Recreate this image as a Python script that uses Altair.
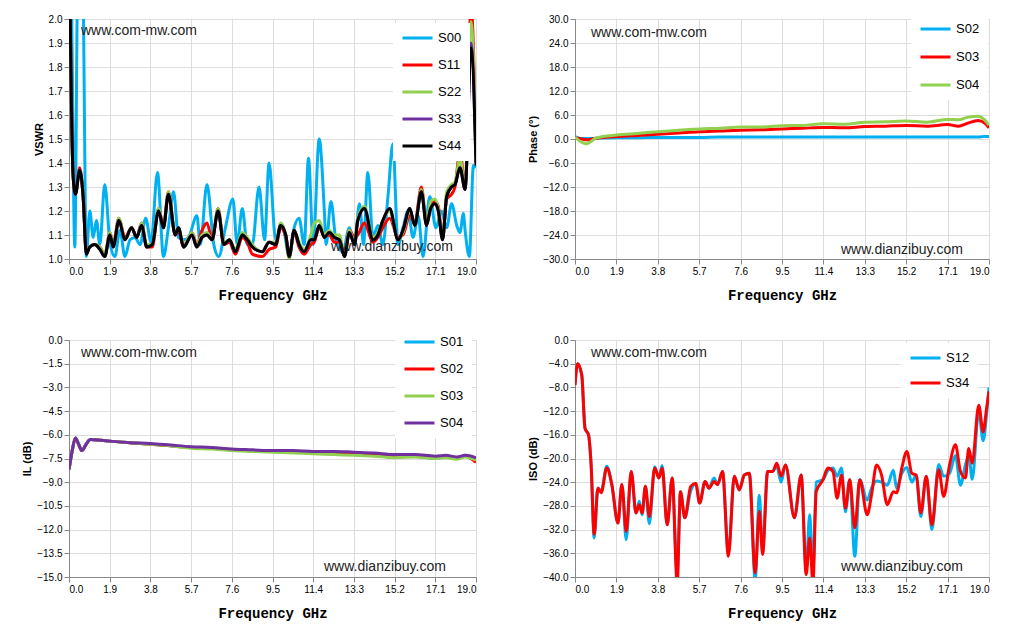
import altair as alt
import pandas as pd

# ---------------- VSWR panel ----------------
vswr_x = [0.03, 0.19, 0.30, 0.50, 0.66, 0.81, 0.97, 1.20, 1.44, 1.67, 1.91, 2.06, 2.33, 2.61, 2.92,
          3.16, 3.39, 3.63, 3.89, 4.18, 4.41, 4.64, 4.96, 5.11, 5.35, 5.74, 5.97, 6.21, 6.44, 6.68,
          6.96, 7.23, 7.49, 7.77, 8.09, 8.32, 8.56, 9.02, 9.34, 9.65, 9.88, 10.12, 10.28, 10.51, 10.74,
          10.98, 11.29, 11.45, 11.68, 11.92, 12.15, 12.39, 12.62, 12.86, 13.09, 13.33, 13.48, 13.79,
          14.19, 14.42, 14.65, 14.97, 15.36, 15.59, 15.91, 16.14, 16.45, 16.69, 16.88, 17.08, 17.24,
          17.44, 17.63, 17.86, 18.02, 18.25, 18.49, 18.77, 19.0]
s44 = [2.2, 1.35, 1.27, 1.37, 1.26, 1.02, 1.05, 1.06, 1.04, 1.01, 1.10, 1.05, 1.16, 1.08, 1.13,
       1.09, 1.14, 1.05, 1.06, 1.20, 1.13, 1.27, 1.10, 1.13, 1.05, 1.10, 1.05, 1.09, 1.10, 1.08,
       1.20, 1.06, 1.08, 1.03, 1.10, 1.08, 1.05, 1.03, 1.07, 1.06, 1.14, 1.10, 1.01, 1.12, 1.06,
       1.03, 1.08, 1.08, 1.14, 1.09, 1.11, 1.09, 1.08, 1.01, 1.11, 1.06, 1.16, 1.21,
       1.08, 1.10, 1.16, 1.21, 1.08, 1.12, 1.21, 1.14, 1.28, 1.14, 1.21, 1.23, 1.20,
       1.08, 1.26, 1.30, 1.31, 1.38, 1.29, 1.88, 1.39]
s33 = [2.2, 1.35, 1.27, 1.37, 1.26, 1.02, 1.05, 1.06, 1.04, 1.01, 1.10, 1.05, 1.16, 1.08, 1.13,
       1.09, 1.14, 1.05, 1.06, 1.20, 1.13, 1.27, 1.10, 1.13, 1.05, 1.10, 1.05, 1.09, 1.10, 1.08,
       1.20, 1.06, 1.08, 1.03, 1.10, 1.08, 1.05, 1.03, 1.07, 1.06, 1.14, 1.10, 1.01, 1.12, 1.06,
       1.03, 1.08, 1.08, 1.14, 1.09, 1.11, 1.09, 1.08, 1.01, 1.11, 1.06, 1.16, 1.21,
       1.08, 1.10, 1.16, 1.21, 1.08, 1.12, 1.21, 1.14, 1.28, 1.14, 1.21, 1.23, 1.20,
       1.08, 1.26, 1.30, 1.31, 1.38, 1.29, 1.90, 1.40]
s22 = [2.2, 1.35, 1.27, 1.37, 1.26, 1.03, 1.05, 1.06, 1.05, 1.02, 1.11, 1.06, 1.17, 1.08, 1.13,
       1.09, 1.15, 1.06, 1.06, 1.21, 1.13, 1.28, 1.11, 1.13, 1.06, 1.11, 1.06, 1.10, 1.11, 1.08,
       1.21, 1.07, 1.08, 1.04, 1.11, 1.09, 1.06, 1.03, 1.07, 1.07, 1.15, 1.10, 1.00, 1.12, 1.07,
       1.04, 1.10, 1.15, 1.16, 1.10, 1.12, 1.10, 1.10, 1.02, 1.12, 1.07, 1.17, 1.22,
       1.09, 1.11, 1.16, 1.20, 1.08, 1.11, 1.20, 1.14, 1.29, 1.15, 1.24, 1.25, 1.21,
       1.09, 1.28, 1.31, 1.32, 1.42, 1.30, 1.99, 1.45]
s11 = [2.2, 1.35, 1.27, 1.38, 1.26, 1.03, 1.05, 1.06, 1.05, 1.02, 1.11, 1.06, 1.17, 1.09, 1.13,
       1.09, 1.15, 1.05, 1.05, 1.21, 1.14, 1.28, 1.10, 1.12, 1.05, 1.11, 1.06, 1.12, 1.15, 1.08,
       1.21, 1.06, 1.07, 1.02, 1.09, 1.07, 1.02, 1.01, 1.04, 1.05, 1.13, 1.09, 1.01, 1.11, 1.05,
       1.02, 1.06, 1.07, 1.13, 1.10, 1.10, 1.07, 1.07, 1.02, 1.12, 1.09, 1.10, 1.15,
       1.07, 1.09, 1.13, 1.17, 1.09, 1.10, 1.18, 1.15, 1.30, 1.15, 1.22, 1.24, 1.22,
       1.09, 1.25, 1.27, 1.30, 1.45, 1.30, 2.05, 1.45]
s00_x = [0.0, 0.11, 0.27, 0.40, 0.53, 0.65, 0.81, 0.97, 1.13, 1.28, 1.44, 1.67, 1.91, 2.14, 2.38, 2.61,
         2.85, 3.08, 3.32, 3.58, 3.83, 4.13, 4.41, 4.64, 4.88, 5.11, 5.35, 5.58, 5.97, 6.13, 6.44,
         6.76, 6.99, 7.30, 7.65, 7.85, 8.09, 8.32, 8.56, 8.87, 9.13, 9.34, 9.65, 9.96, 10.28, 10.51,
         10.74, 10.98, 11.18, 11.40, 11.68, 11.92, 12.00, 12.23, 12.46, 12.78, 13.09, 13.33, 13.56,
         13.75, 13.95, 14.19, 14.42, 14.65, 14.89, 15.12, 15.36, 15.59, 15.83, 16.06, 16.30, 16.53,
         16.84, 17.13, 17.39, 17.63, 17.86, 18.10, 18.25, 18.41, 18.49, 18.69, 18.88, 19.0]
s00 = [2.4, 2.1, 1.05, 2.2, 2.6, 2.2, 1.01, 1.20, 1.09, 1.16, 1.06, 1.31, 1.07, 1.01, 1.12, 1.01,
       1.08, 1.09, 1.06, 1.17, 1.07, 1.36, 1.01, 1.13, 1.28, 1.09, 1.08, 1.09, 1.18, 1.06, 1.31,
       1.06, 1.01, 1.13, 1.25, 1.06, 1.21, 1.06, 1.06, 1.30, 1.08, 1.40, 1.08, 1.14, 1.01, 1.13,
       1.17, 1.06, 1.42, 1.06, 1.50, 1.20, 1.06, 1.24, 1.08, 1.03, 1.13, 1.06, 1.23,
       1.06, 1.36, 1.09, 1.14, 1.06, 1.26, 1.48, 1.06, 1.13, 1.20, 1.09, 1.18, 1.01,
       1.26, 1.13, 1.20, 1.13, 1.23, 1.14, 1.11, 1.19, 1.12, 1.01, 1.39, 1.38]

# ---------------- Phase panel ----------------
ph_x = [0, 0.3, 0.5, 1, 1.9, 2.85, 3.8, 4.75, 5.7, 6.65, 7.6, 8.55, 9.5, 10.45, 11.4, 12.35,
        13.3, 14.25, 15.2, 16.15, 17.1, 17.6, 18.0, 18.5, 18.8, 19.0]
ph_s02 = [0.6, 0.1, 0.1, 0.2, 0.3, 0.3, 0.4, 0.4, 0.4, 0.5, 0.5, 0.5, 0.5, 0.5, 0.5, 0.5,
          0.5, 0.5, 0.5, 0.5, 0.5, 0.5, 0.5, 0.5, 0.6, 0.6]
ph_s03 = [0.3, 0.0, -0.2, 0.2, 0.6, 0.9, 1.2, 1.5, 1.8, 2.0, 2.2, 2.3, 2.5, 2.7, 2.9, 2.8,
          3.1, 3.2, 3.4, 3.2, 3.6, 3.2, 3.9, 4.6, 4.0, 2.8]
ph_s04 = [0.5, -0.8, -1.2, 0.3, 1.0, 1.4, 1.8, 2.2, 2.5, 2.7, 3.0, 3.0, 3.3, 3.4, 3.8, 3.7,
          4.2, 4.3, 4.5, 4.2, 4.9, 4.8, 5.4, 5.7, 4.8, 3.5]

# ---------------- IL panel ----------------
il_x = [0, 0.15, 0.3, 0.45, 0.6, 0.8, 1.0, 1.5, 1.9, 2.85, 3.8, 4.75, 5.7, 6.65, 7.6, 8.55,
        9.5, 10.45, 11.4, 12.35, 13.3, 14.25, 15.2, 16.15, 17.1, 17.6, 18.1, 18.5, 19]
il_s01 = [-8.2, -7.0, -6.2, -6.6, -7.0, -6.6, -6.3, -6.35, -6.4, -6.5, -6.6, -6.7, -6.8, -6.85,
          -6.95, -7.0, -7.05, -7.1, -7.15, -7.2, -7.25, -7.3, -7.4, -7.35, -7.5, -7.4, -7.5, -7.3, -7.7]
il_s02 = [-8.2, -7.0, -6.2, -6.6, -7.0, -6.6, -6.3, -6.35, -6.4, -6.5, -6.6, -6.7, -6.8, -6.85,
          -6.95, -7.0, -7.05, -7.1, -7.15, -7.2, -7.25, -7.3, -7.4, -7.35, -7.45, -7.4, -7.5, -7.35, -7.75]
il_s03 = [-8.2, -7.0, -6.2, -6.6, -7.0, -6.6, -6.3, -6.35, -6.4, -6.5, -6.6, -6.7, -6.85, -6.9,
          -7.0, -7.05, -7.1, -7.15, -7.2, -7.25, -7.3, -7.35, -7.45, -7.4, -7.5, -7.45, -7.55, -7.4, -7.6]
il_s04 = [-8.2, -7.0, -6.2, -6.6, -7.0, -6.6, -6.3, -6.35, -6.4, -6.5, -6.55, -6.65, -6.75, -6.8,
          -6.9, -6.95, -7.0, -7.0, -7.05, -7.05, -7.1, -7.15, -7.25, -7.25, -7.35, -7.3, -7.4, -7.3, -7.45]

# ---------------- ISO panel ----------------
iso_x = [0.00, 0.12, 0.31, 0.46, 0.62, 0.74, 0.88, 1.05, 1.20, 1.46, 1.69, 1.97, 2.15, 2.35, 2.58,
         2.80, 2.95, 3.08, 3.23, 3.41, 3.66, 3.85, 4.00, 4.23, 4.46, 4.69, 4.84, 5.04, 5.31, 5.54,
         5.72, 5.97, 6.15, 6.38, 6.54, 6.77, 7.04, 7.31, 7.54, 7.77, 8.00, 8.27, 8.46, 8.61, 8.84,
         9.07, 9.26, 9.46, 9.66, 10.07, 10.38, 10.61, 10.77, 10.92, 11.07, 11.38, 11.61, 11.84,
         12.03, 12.23, 12.41, 12.61, 12.84, 13.07, 13.41, 13.61, 13.84, 14.07, 14.33, 14.61, 14.76,
         15.00, 15.23, 15.46, 15.66, 15.87, 16.12, 16.38, 16.69, 16.92, 17.19, 17.46, 17.69, 17.92,
         18.07, 18.23, 18.53, 18.73, 18.89, 19.00]
iso_s34 = [-7.6, -4.0, -5.9, -14.9, -16.0, -21.1, -32.8, -25.0, -25.8, -21.6, -24.4, -30.9, -24.4,
           -32.3, -22.2, -29.2, -27.8, -29.2, -24.7, -29.8, -21.6, -23.3, -21.6, -31.2, -23.3, -41.0,
           -25.6, -30.0, -24.7, -24.2, -27.5, -23.9, -25.0, -23.9, -24.4, -22.2, -36.5, -23.0, -25.3,
           -22.8, -22.5, -39.3, -28.9, -36.2, -22.2, -22.2, -20.8, -23.0, -21.1, -30.0, -22.8, -39.6,
           -33.4, -41.0, -25.6, -23.6, -21.6, -22.2, -26.7, -22.8, -28.4, -23.6, -31.7, -23.6, -29.5,
           -26.1, -21.1, -22.8, -27.8, -25.6, -25.8, -21.6, -18.8, -22.5, -22.8, -29.2, -23.0, -31.2,
           -21.9, -26.4, -21.1, -17.7, -22.2, -23.3, -18.3, -20.8, -11.0, -15.5, -11.5, -8.7]
iso_s12 = [-7.6, -4.0, -5.9, -14.9, -16.0, -21.1, -33.4, -25.0, -25.5, -21.3, -24.4, -30.9, -24.4,
           -33.7, -22.2, -29.2, -27.2, -29.5, -24.7, -31.0, -21.4, -23.3, -21.2, -31.2, -23.3, -39.5,
           -25.6, -30.0, -25.5, -24.2, -27.5, -23.9, -25.0, -23.3, -24.4, -22.2, -36.0, -23.0, -25.3,
           -22.8, -22.5, -40.5, -26.2, -35.5, -22.2, -22.2, -21.3, -24.0, -21.1, -30.0, -22.8, -38.5,
           -29.5, -39.0, -24.0, -23.6, -22.0, -21.6, -23.0, -21.6, -29.0, -23.6, -36.5, -23.6, -27.0,
           -25.0, -23.8, -24.0, -24.5, -22.0, -25.0, -22.5, -21.5, -24.0, -22.8, -29.8, -23.0, -32.0,
           -21.0, -23.0, -22.5, -19.5, -24.5, -21.0, -19.5, -23.5, -12.0, -17.0, -12.5, -8.0]

freq_ticks = [0.0, 1.9, 3.8, 5.7, 7.6, 9.5, 11.4, 13.3, 15.2, 17.1, 19.0]

COL = {"S00": "#00b0f0", "S01": "#00b0f0", "S02": "#00b0f0", "S12": "#00b0f0",
       "S11": "#ff0000", "S03": "#ff0000", "S34": "#ff0000",
       "S22": "#92d050", "S04": "#92d050", "S33": "#7030a0", "S44": "#000000"}


def frame(series):
    rows = []
    for name, xs, ys in series:
        for i, (x, y) in enumerate(zip(xs, ys)):
            rows.append({"f": x, "v": y, "s": name, "i": i})
    return pd.DataFrame(rows)


def panel(series, order, ydom, ystep, ytitle, lx, ly, rowpad, colors=None):
    df = frame(series)
    yticks = [round(ydom[0] + k * ystep, 2) for k in range(int(round((ydom[1] - ydom[0]) / ystep)) + 1)]
    if colors is None:
        colors = [COL[s] for s in order]
    return alt.Chart(df).mark_line(strokeWidth=3, clip=True, interpolate="monotone").encode(
        x=alt.X("f:Q", title="Frequency GHz", scale=alt.Scale(domain=[0, 19], nice=False),
                axis=alt.Axis(values=freq_ticks, format=".1f", titleFont="Liberation Mono",
                              titleFontSize=14, titleFontWeight="bold", titlePadding=12)),
        y=alt.Y("v:Q", title=ytitle, scale=alt.Scale(domain=ydom, nice=False),
                axis=alt.Axis(values=yticks, format=".1f")),
        color=alt.Color("s:N", sort=order, scale=alt.Scale(domain=order, range=colors),
                        legend=alt.Legend(title=None, orient="none", legendX=lx, legendY=ly,
                                          fillColor="white", symbolType="stroke",
                                          symbolStrokeWidth=3, symbolSize=900, clipHeight=14,
                                          labelFontSize=13, rowPadding=rowpad, padding=8)),
        order=alt.Order("i:Q"),
    )


def marks(txt, x, y):
    return alt.Chart(pd.DataFrame({"t": [txt]})).mark_text(
        align="left", baseline="middle", fontSize=14, font="Liberation Sans", color="#222"
    ).encode(x=alt.value(x), y=alt.value(y), text="t:N")


p1 = alt.layer(
    panel([("S00", s00_x, s00), ("S11", vswr_x, s11), ("S22", vswr_x, s22),
           ("S33", vswr_x, s33), ("S44", vswr_x, s44)],
          ["S00", "S11", "S22", "S33", "S44"], [1.0, 2.0], 0.1, "VSWR", 324, 4, 13),
    marks("www.com-mw.com", 12, 12), marks("www.dianzibuy.com", 262, 228),
).properties(width=407, height=240)

p2 = alt.layer(
    panel([("S02", ph_x, ph_s02), ("S03", ph_x, ph_s03), ("S04", ph_x, ph_s04)],
          ["S02", "S03", "S04"], [-30, 30], 6, "Phase (°)", 336, -5, 14),
    marks("www.com-mw.com", 16, 14), marks("www.dianzibuy.com", 266, 231),
).properties(width=414, height=240)

p3 = alt.layer(
    panel([("S01", il_x, il_s01), ("S02", il_x, il_s02), ("S03", il_x, il_s03), ("S04", il_x, il_s04)],
          ["S01", "S02", "S03", "S04"], [-15, 0], 1.5, "IL (dB)", 326, -13, 13,
          colors=["#00b0f0", "#ff0000", "#92d050", "#7030a0"]),
    marks("www.com-mw.com", 12, 13), marks("www.dianzibuy.com", 255, 227),
).properties(width=407, height=237)

p4 = alt.layer(
    panel([("S12", iso_x, iso_s12), ("S34", iso_x, iso_s34)],
          ["S12", "S34"], [-40, 0], 4, "ISO (dB)", 326, 3, 11),
    marks("www.com-mw.com", 16, 13), marks("www.dianzibuy.com", 266, 227),
).properties(width=414, height=237)

top = alt.hconcat(p1, p2, spacing=50).resolve_scale(color="independent")
bot = alt.hconcat(p3, p4, spacing=50).resolve_scale(color="independent")

chart = alt.vconcat(top, bot, spacing=23).resolve_scale(color="independent").properties(
    padding={"left": 13, "top": 5, "right": 5, "bottom": 5}
).configure_view(
    stroke="#888", strokeWidth=1
).configure_axis(
    gridColor="#999", gridWidth=1, domainColor="#888", tickColor="#888",
    labelFont="Liberation Sans", labelFontSize=12, labelColor="#222", tickSize=5
).configure_axisY(
    titleFont="Liberation Sans", titleFontSize=12, titleFontWeight="bold", titleColor="#222",
    titlePadding=6
).configure_legend(
    labelFont="Liberation Sans"
).configure(background="white")

chart.save("out.html", embed_options={"renderer": "svg", "actions": False})
